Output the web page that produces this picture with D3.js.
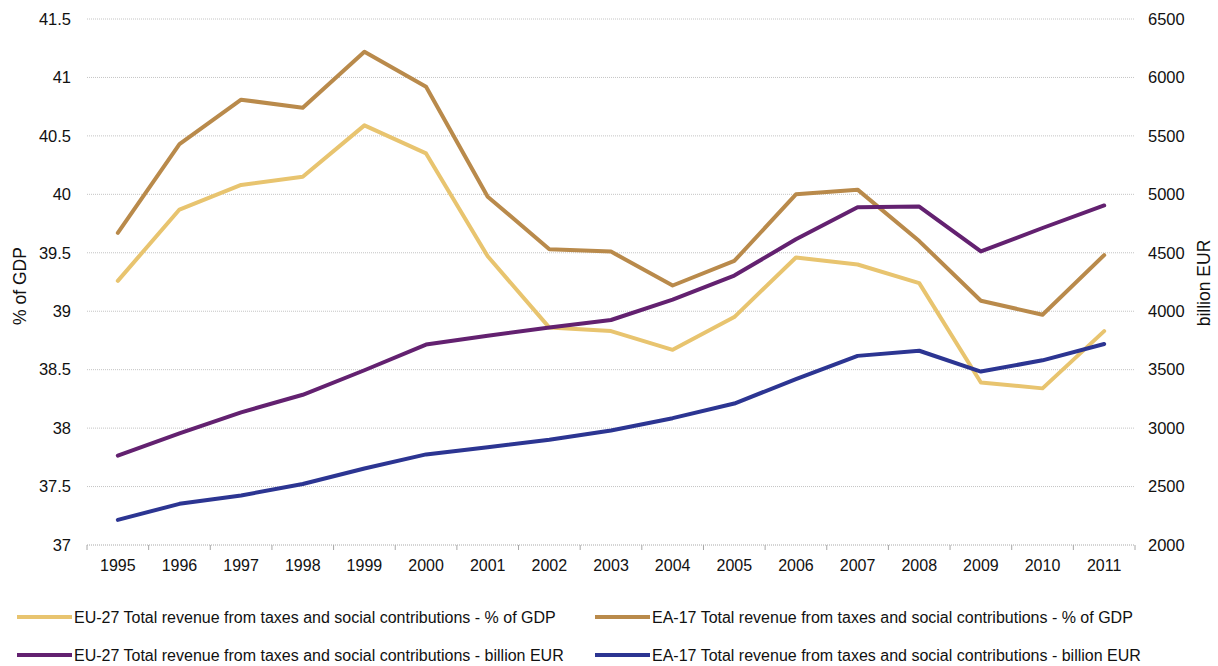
<!DOCTYPE html>
<html>
<head>
<meta charset="utf-8">
<script src="https://cdn.jsdelivr.net/npm/d3@7"></script>
<style>
  body { margin: 0; background: #fff; }
  text { font-family: "Liberation Sans", Arial, sans-serif; fill: #111; }
</style>
</head>
<body>
<div id="chart"></div>
<script>
// data
const years = ["1995","1996","1997","1998","1999","2000","2001","2002","2003","2004","2005","2006","2007","2008","2009","2010","2011"];
const eu27Pct = [39.26, 39.87, 40.08, 40.15, 40.59, 40.35, 39.47, 38.86, 38.83, 38.67, 38.95, 39.46, 39.40, 39.24, 38.39, 38.34, 38.83];
const ea17Pct = [39.67, 40.43, 40.81, 40.74, 41.22, 40.92, 39.98, 39.53, 39.51, 39.22, 39.43, 40.0, 40.04, 39.60, 39.09, 38.97, 39.48];
const eu27Bn = [2765, 2955, 3135, 3285, 3495, 3715, 3790, 3860, 3925, 4100, 4305, 4615, 4890, 4895, 4512, 4712, 4905];
const ea17Bn = [2215, 2352, 2424, 2522, 2655, 2775, 2837, 2900, 2980, 3085, 3210, 3420, 3618, 3662, 3484, 3580, 3720];
const leftTicks = [37, 37.5, 38, 38.5, 39, 39.5, 40, 40.5, 41, 41.5];
const rightTicks = [2000, 2500, 3000, 3500, 4000, 4500, 5000, 5500, 6000, 6500];

const series = [
  { name: "EU-27 Total revenue from taxes and social contributions - % of GDP", values: eu27Pct, axis: "left", color: "#e8c46f" },
  { name: "EA-17 Total revenue from taxes and social contributions - % of GDP", values: ea17Pct, axis: "left", color: "#b98a4b" },
  { name: "EU-27 Total revenue from taxes and social contributions - billion EUR", values: eu27Bn, axis: "right", color: "#632170" },
  { name: "EA-17 Total revenue from taxes and social contributions - billion EUR", values: ea17Bn, axis: "right", color: "#2c3592" }
];

const width = 1218, height = 666;
const margin = { left: 87, right: 83, top: 19, bottom: 121 };

const svg = d3.select("#chart").append("svg")
  .attr("width", width)
  .attr("height", height);

const x = d3.scaleBand()
  .domain(years)
  .range([margin.left, width - margin.right]);

const yL = d3.scaleLinear().domain([37, 41.5]).range([height - margin.bottom, margin.top]);
const yR = d3.scaleLinear().domain([2000, 6500]).range([height - margin.bottom, margin.top]);

// gridlines
svg.append("g")
  .selectAll("line")
  .data(leftTicks.slice(1))
  .enter()
  .append("line")
  .attr("x1", margin.left)
  .attr("x2", width - margin.right)
  .attr("y1", d => yL(d))
  .attr("y2", d => yL(d))
  .attr("stroke", "#c4c4c4")
  .attr("stroke-dasharray", "1,1");

// left axis labels
svg.append("g")
  .attr("transform", `translate(${margin.left},0)`)
  .call(d3.axisLeft(yL).tickValues(leftTicks).tickSize(0).tickPadding(16).tickFormat(d3.format("")))
  .call(g => g.select(".domain").remove())
  .selectAll("text").style("font-size", "16.5px").attr("fill", "#111");

// right axis labels
svg.append("g")
  .attr("transform", `translate(${width - margin.right},0)`)
  .call(d3.axisRight(yR).tickValues(rightTicks).tickSize(0).tickPadding(13).tickFormat(d3.format("d")))
  .call(g => g.select(".domain").remove())
  .selectAll("text").style("font-size", "16.5px").attr("fill", "#111");

// bottom axis: dotted line, ticks between categories
const xAxisG = svg.append("g");
xAxisG.append("line")
  .attr("x1", margin.left)
  .attr("x2", width - margin.right)
  .attr("y1", yL(37))
  .attr("y2", yL(37))
  .attr("stroke", "#a8a8a8")
  .attr("stroke-dasharray", "1,1");
const edges = years.map(d => x(d)).concat([width - margin.right]);
xAxisG.selectAll("line.tk")
  .data(edges)
  .enter()
  .append("line")
  .attr("class", "tk")
  .attr("x1", d => d).attr("x2", d => d)
  .attr("y1", yL(37)).attr("y2", yL(37) + 5)
  .attr("stroke", "#a8a8a8");
xAxisG.selectAll("text")
  .data(years)
  .enter()
  .append("text")
  .attr("x", d => x(d) + x.bandwidth() / 2)
  .attr("y", yL(37) + 26)
  .attr("text-anchor", "middle")
  .style("font-size", "16px")
  .text(d => d);

// axis titles
svg.append("text")
  .attr("transform", `translate(26,286) rotate(-90)`)
  .attr("text-anchor", "middle")
  .style("font-size", "17.5px")
  .text("% of GDP");
svg.append("text")
  .attr("transform", `translate(1210,283) rotate(-90)`)
  .attr("text-anchor", "middle")
  .style("font-size", "17.5px")
  .text("billion EUR");

// lines
series.forEach(s => {
  const y = s.axis == "left" ? yL : yR;
  const line = d3.line()
    .x((d, i) => x(years[i]) + x.bandwidth() / 2)
    .y(d => y(d));
  svg.append("path")
    .datum(s.values)
    .attr("d", line)
    .attr("fill", "none")
    .attr("stroke", s.color)
    .attr("stroke-width", 4)
    .attr("stroke-linejoin", "round")
    .attr("stroke-linecap", "round");
});

// legend
const legendPos = [[17, 617], [595, 617], [17, 655], [595, 655]];
series.forEach((s, i) => {
  const g = svg.append("g").attr("transform", `translate(${legendPos[i][0]},${legendPos[i][1]})`);
  g.append("line")
    .attr("x1", 0).attr("x2", 55)
    .attr("y1", 0).attr("y2", 0)
    .attr("stroke", s.color)
    .attr("stroke-width", 4);
  g.append("text")
    .attr("x", 57)
    .attr("y", 5.5)
    .style("font-size", "16px")
    .text(s.name);
});
</script>
</body>
</html>
